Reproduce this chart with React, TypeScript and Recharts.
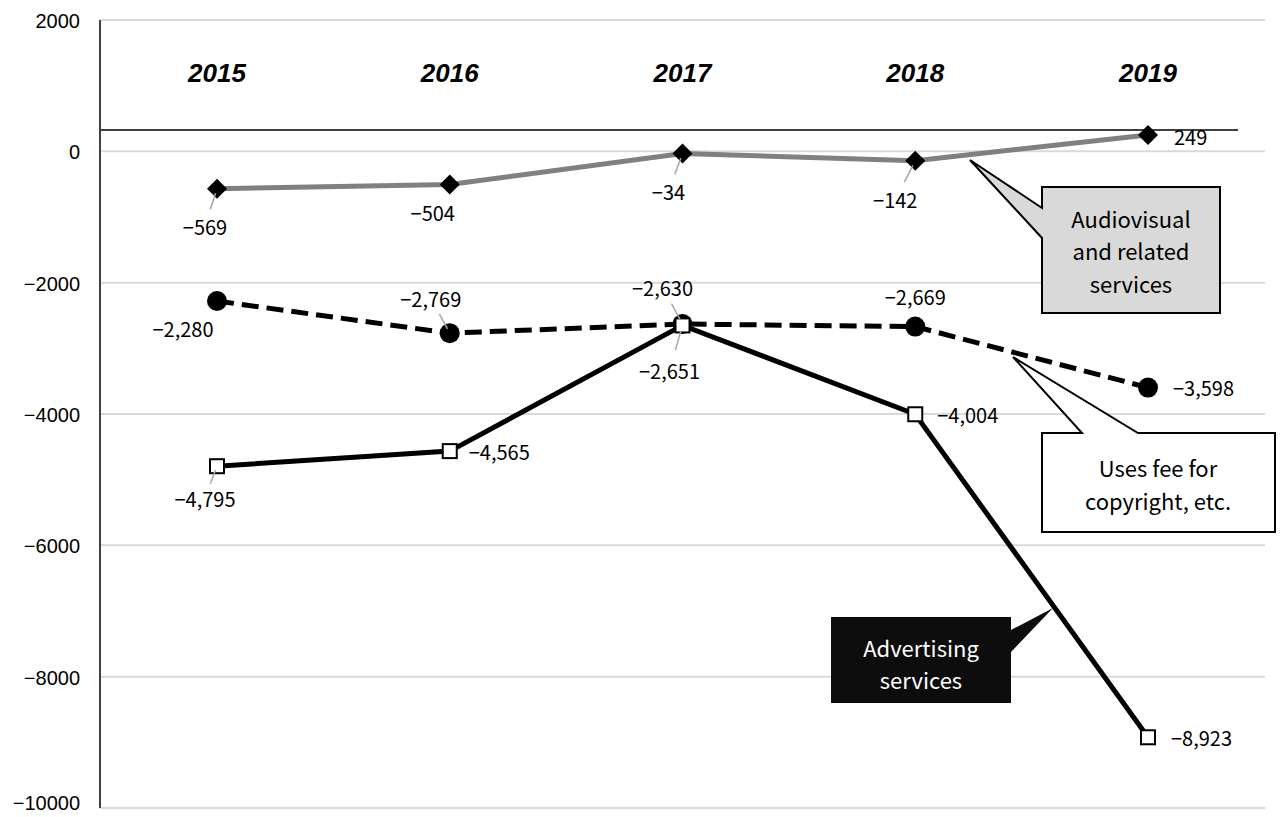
import { CartesianGrid, LabelList, Line, LineChart, ReferenceLine, XAxis, YAxis } from "recharts"

const years = ["2015", "2016", "2017", "2018", "2019"]
const audiovisual = [-569, -504, -34, -142, 249]
const usesFee = [-2280, -2769, -2630, -2669, -3598]
const advertising = [-4795, -4565, -2651, -4004, -8923]
const yTicks = [-10000, -8000, -6000, -4000, -2000, 0, 2000]

// label placement per point: offset from the marker, anchor, and whether to draw a leader line
type Place = { dx: number; dy: number; anchor: "start" | "middle"; leader?: boolean }

const audiovisualPlaces: Place[] = [
  { dx: -12, dy: 38, anchor: "middle", leader: true },
  { dx: -17, dy: 28, anchor: "middle" },
  { dx: -14, dy: 38, anchor: "middle", leader: true },
  { dx: -20, dy: 39, anchor: "middle", leader: true },
  { dx: 26, dy: 2, anchor: "start" },
]
const usesFeePlaces: Place[] = [
  { dx: -34, dy: 27, anchor: "middle" },
  { dx: -19, dy: -35, anchor: "middle", leader: true },
  { dx: -20, dy: -37, anchor: "middle", leader: true },
  { dx: 0, dy: -30, anchor: "middle" },
  { dx: 25, dy: 0, anchor: "start" },
]
const advertisingPlaces: Place[] = [
  { dx: -12, dy: 32, anchor: "middle", leader: true },
  { dx: 19, dy: 0, anchor: "start" },
  { dx: -13, dy: 45, anchor: "middle", leader: true },
  { dx: 22, dy: 0, anchor: "start" },
  { dx: 23, dy: 0, anchor: "start" },
]

const data = years.map((year, i) => ({
  year,
  audiovisual: audiovisual[i],
  usesFee: usesFee[i],
  advertising: advertising[i],
}))

const labelFont = "'Noto Sans CJK JP', 'Noto Sans', sans-serif"
const fmt = (v: number) => v.toLocaleString("en-US").replace("-", "\u2212")

function makeLabel(places: Place[]) {
  return (props: any) => {
    const { x, y, index, value } = props
    const p = places[index]
    if (!p || x == null || y == null) return null
    return (
      <g>
        {p.leader && (
          <line
            x1={x + p.dx * 0.55}
            y1={y + p.dy * 0.55}
            x2={x + p.dx * 0.12}
            y2={y + p.dy * 0.12}
            stroke="#a6a6a6"
            strokeWidth={1.5}
          />
        )}
        <text
          x={x + p.dx}
          y={y + p.dy}
          textAnchor={p.anchor}
          dominantBaseline="central"
          fontSize={20}
          fontFamily={labelFont}
          fill="#000"
        >
          {fmt(value)}
        </text>
      </g>
    )
  }
}

const Diamond = (props: any) => {
  const { cx, cy } = props
  if (cx == null || cy == null) return null
  return <path d={`M${cx},${cy - 10}L${cx + 10},${cy}L${cx},${cy + 10}L${cx - 10},${cy}Z`} fill="#000" />
}

const Circle = (props: any) => {
  const { cx, cy } = props
  if (cx == null || cy == null) return null
  return <circle cx={cx} cy={cy} r={10} fill="#000" />
}

const Square = (props: any) => {
  const { cx, cy } = props
  if (cx == null || cy == null) return null
  return <rect x={cx - 7} y={cy - 7} width={14} height={14} fill="#fff" stroke="#000" strokeWidth={2} />
}

const YearTick = (props: any) => {
  const { x, payload } = props
  return (
    <text
      x={x}
      y={82}
      textAnchor="middle"
      fontSize={26}
      fontStyle="italic"
      fontWeight="bold"
      fontFamily="'Liberation Sans', Arial, sans-serif"
      fill="#000"
    >
      {payload.value}
    </text>
  )
}

const ValueTick = (props: any) => {
  const { x, y, payload } = props
  return (
    <text
      x={x}
      y={Math.min(y + 1, 803)}
      textAnchor="end"
      dominantBaseline="central"
      fontSize={20}
      fontFamily="'Liberation Sans', Arial, sans-serif"
      fill="#000"
    >
      {String(payload.value).replace("-", "\u2212")}
    </text>
  )
}

const BaseLine = (props: any) => {
  const { x1, y1, x2, y2 } = props
  return <line x1={x1} y1={y1} x2={x2 - 27} y2={y2} stroke="#000" strokeWidth={1.5} />
}

function Callouts() {
  const txt = { fontSize: 22, fontFamily: labelFont, textAnchor: "middle" as const, dominantBaseline: "central" as const }
  return (
    <svg width={1286} height={817} style={{ position: "absolute", left: 0, top: 0, pointerEvents: "none" }}>
      <path
        d="M1042,187L1220,187L1220,313L1042,313L1042,238L970,160L1042,208Z"
        fill="#d9d9d9"
        stroke="#000"
        strokeWidth={2}
      />
      <text x={1131} y={218} {...txt}>Audiovisual</text>
      <text x={1131} y={250} {...txt}>and related</text>
      <text x={1131} y={283} {...txt}>services</text>

      <path
        d="M1042,433L1082,433L1013,357L1138,433L1275,433L1275,532L1042,532Z"
        fill="#fff"
        stroke="#000"
        strokeWidth={2}
      />
      <text x={1158} y={467} {...txt}>Uses fee for</text>
      <text x={1158} y={500} {...txt}>copyright, etc.</text>

      <path d="M831,617L1011,617L1011,630L1053,608L1011,652L1011,703L831,703Z" fill="#0d0d0d" />
      <text x={921} y={647} {...txt} fill="#fff">Advertising</text>
      <text x={921} y={679} {...txt} fill="#fff">services</text>
    </svg>
  )
}

export default function App() {
  return (
    <div style={{ position: "relative", width: 1286, height: 817, background: "#fff" }}>
      <style>{"body{margin:0}"}</style>
      <LineChart width={1286} height={817} data={data} margin={{ top: 0, right: 21, bottom: 9, left: 0 }}>
        <CartesianGrid vertical={false} stroke="#d9d9d9" strokeWidth={2} />
        <XAxis
          dataKey="year"
          orientation="top"
          height={20}
          axisLine={false}
          tickLine={false}
          padding={{ left: 117, right: 117 }}
          tick={(p: any) => <YearTick {...p} />}
        />
        <YAxis
          domain={[-10000, 2000]}
          ticks={yTicks}
          width={100}
          interval={0}
          tickLine={false}
          tickMargin={14}
          axisLine={{ stroke: "#404040", strokeWidth: 2 }}
          tick={(p: any) => <ValueTick {...p} />}
        />
        <ReferenceLine y={325} shape={(p: any) => <BaseLine {...p} />} />
        <Line
          dataKey="audiovisual"
          stroke="#808080"
          strokeWidth={5}
          dot={(p: any) => <Diamond key={`a${p.index}`} {...p} />}
          activeDot={false}
          isAnimationActive={false}
        >
          <LabelList dataKey="audiovisual" content={makeLabel(audiovisualPlaces)} />
        </Line>
        <Line
          dataKey="usesFee"
          stroke="#000"
          strokeWidth={5}
          strokeDasharray="17 8"
          dot={(p: any) => <Circle key={`u${p.index}`} {...p} />}
          activeDot={false}
          isAnimationActive={false}
        >
          <LabelList dataKey="usesFee" content={makeLabel(usesFeePlaces)} />
        </Line>
        <Line
          dataKey="advertising"
          stroke="#000"
          strokeWidth={5}
          dot={(p: any) => <Square key={`d${p.index}`} {...p} />}
          activeDot={false}
          isAnimationActive={false}
        >
          <LabelList dataKey="advertising" content={makeLabel(advertisingPlaces)} />
        </Line>
      </LineChart>
      <Callouts />
    </div>
  )
}
